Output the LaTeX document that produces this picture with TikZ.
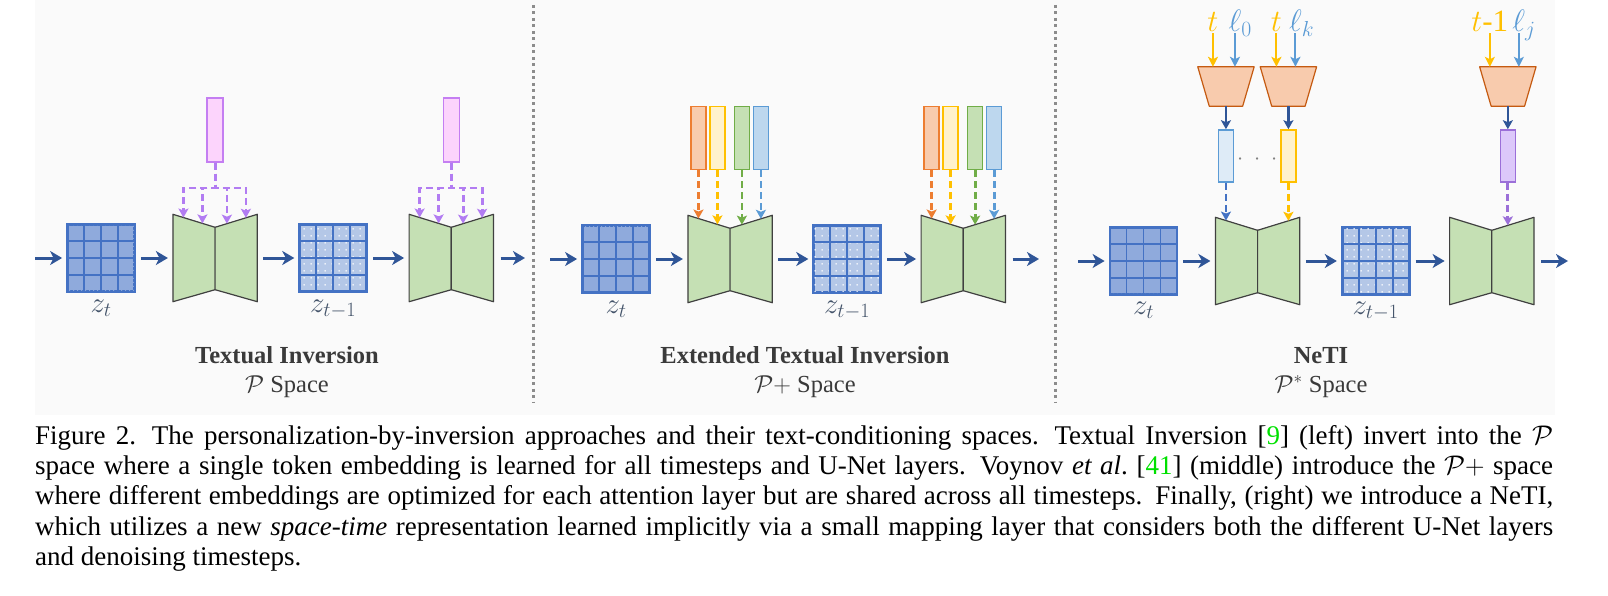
\RequirePackage{fix-cm}
\documentclass[tikz,border=0pt]{standalone}
\usepackage{fontspec}
\setmainfont{Liberation Serif}
\usetikzlibrary{arrows.meta,positioning,calc,patterns.meta}
\definecolor{flowblue}{HTML}{2F5597}
\definecolor{latline}{HTML}{4472C4}
\definecolor{latdark}{HTML}{8FAADC}
\definecolor{latlight}{HTML}{B4C7E7}
\definecolor{unetfill}{HTML}{C5E0B4}
\definecolor{unetline}{HTML}{404040}
\definecolor{orangeln}{HTML}{ED7D31}
\definecolor{orangefl}{HTML}{F8CBAD}
\definecolor{mapline}{HTML}{C55A11}
\definecolor{yellowln}{HTML}{FFC000}
\definecolor{yellowfl}{HTML}{FFF2CC}
\definecolor{greenln}{HTML}{70AD47}
\definecolor{blueln}{HTML}{5B9BD5}
\definecolor{bluefl}{HTML}{BDD7EE}
\definecolor{paleblue}{HTML}{DEEBF7}
\definecolor{pinkfl}{HTML}{FCD4FC}
\definecolor{pinkln}{HTML}{C47EF2}
\definecolor{violetdash}{HTML}{B27CF2}
\definecolor{lilacfl}{HTML}{DCC8FA}
\definecolor{lilacln}{HTML}{9B6FD8}
\definecolor{titlegray}{HTML}{3A3A3A}
\definecolor{zlabel}{HTML}{44546A}
\definecolor{figbg}{HTML}{FAFAFA}
\definecolor{sepgray}{HTML}{8C8C8C}
\definecolor{citegreen}{HTML}{00E000}
\tikzdeclarepattern{name=speckle, type=uncolored, bounding box={(0pt,0pt) and (4pt,4pt)},
  tile size={(4pt,4pt)}, code={\fill (2pt,2pt) circle (0.9pt);}}
\tikzdeclarepattern{name=sparkle, type=uncolored, bounding box={(0pt,0pt) and (7pt,7pt)},
  tile size={(7pt,7pt)}, code={\fill (3.5pt,3.5pt) circle (0.9pt);}}
\tikzset{
  lattice/.style={draw=latline, line width=1.8pt, fill=#1, minimum width=66pt, minimum height=66pt, inner sep=0pt},
  gridline/.style={latline, line width=1.8pt},
  unet/.style={minimum width=84pt, minimum height=87pt, inner sep=0pt},
  unetbody/.style={draw=unetline, fill=unetfill, line width=1.2pt, line join=round},
  tokbar/.style 2 args={draw=#1, fill=#2, line width=1.6pt, minimum width=15pt, minimum height=63pt, inner sep=0pt},
  mapper/.style={minimum width=56pt, minimum height=39pt, inner sep=0pt},
  mapbody/.style={draw=mapline, fill=orangefl, line width=1.2pt, line join=round},
  flow/.style={flowblue, line width=3pt, -{Stealth[length=12pt,width=14pt,inset=3.5pt]}, shorten <=6pt, shorten >=5pt},
  dashflow/.style={#1, line width=2.8pt, dash pattern=on 7pt off 4pt, -{Stealth[length=9pt,width=10pt,inset=2pt]}},
  inflow/.style={#1, line width=2pt, -{Stealth[length=10pt,width=10pt,inset=2.5pt]}},
  mapflow/.style={flowblue, line width=2.2pt, -{Stealth[length=9pt,width=10pt,inset=2pt]}},
  zlab/.style={text=zlabel, font=\fontsize{29}{31}\selectfont, inner sep=0pt},
  tin/.style={text=#1, font=\fontsize{31}{33}\selectfont, inner sep=1pt, text depth=0pt, anchor=base},
  ptitle/.style={text=titlegray, font=\fontsize{24.5}{28}\selectfont\bfseries, anchor=base, inner sep=0pt},
  psub/.style={text=titlegray, font=\fontsize{24.5}{28}\selectfont, anchor=base, inner sep=0pt},
  sepline/.style={sepgray, line width=3pt, dash pattern=on 3pt off 3.5pt},
  capnode/.style={anchor=north west, text width=1518pt, align=left, inner sep=0pt,
    font=\fontsize{27}{30.3}\selectfont}
}
\newcommand{\capline}[1]{\makebox[1518pt][s]{#1}}
\begin{document}
\begin{tikzpicture}[x=1pt,y=-1pt]
  \useasboundingbox (0,0) rectangle (1608,596);
  \fill[figbg] (35,0) rectangle (1555,415);
  \draw[sepline] (533,5) -- (533,402);
  \draw[sepline] (1055,5) -- (1055,402);

  \node[lattice=latdark] (g1) at (101,258) {};
  \node[unet,right=38pt of g1] (u1) {};
  \node[lattice=latlight,right=42pt of u1] (g2) {};
  \node[unet,right=42pt of g2] (u2) {};
  \node[lattice=latdark] (g3) at (616,259) {};
  \node[unet,right=38pt of g3] (u3) {};
  \node[lattice=latlight,right=41pt of u3] (g4) {};
  \node[unet,right=40pt of g4] (u4) {};
  \node[lattice=latdark] (g5) at (1143.5,261) {};
  \node[unet,right=38pt of g5] (u5) {};
  \node[lattice=latlight,right=42pt of u5] (g6) {};
  \node[unet,right=40pt of g6] (u6) {};

  \foreach \i in {1,3,5}
    \fill[pattern=speckle,pattern color=latline!60] (g\i.north west) rectangle (g\i.south east);
  \foreach \i in {2,4,6}
    \fill[pattern=sparkle,pattern color=white] (g\i.north west) rectangle (g\i.south east);
  \foreach \i in {1,...,6} {
    \draw[gridline] (g\i.north west) rectangle (g\i.south east);
    \foreach \f in {0.25,0.5,0.75} {
      \draw[gridline] ($(g\i.north west)!\f!(g\i.north east)$) -- ($(g\i.south west)!\f!(g\i.south east)$);
      \draw[gridline] ($(g\i.north west)!\f!(g\i.south west)$) -- ($(g\i.north east)!\f!(g\i.south east)$);
    }
    \coordinate (u\i-top) at ([yshift=-13pt]u\i.north);
    \coordinate (u\i-bot) at ([yshift=12pt]u\i.south);
    \draw[unetbody] (u\i.north west) -- (u\i-top) -- (u\i-bot) -- (u\i.south west) -- cycle;
    \draw[unetbody] (u\i.north east) -- (u\i-top) -- (u\i-bot) -- (u\i.south east) -- cycle;
    \coordinate (u\i-a) at ($(u\i.north west)!0.25!(u\i-top)$);
    \coordinate (u\i-b) at ($(u\i.north west)!0.7!(u\i-top)$);
    \coordinate (u\i-c) at ($(u\i-top)!0.28!(u\i.north east)$);
    \coordinate (u\i-d) at ($(u\i-top)!0.73!(u\i.north east)$);
  }

  \coordinate (in1) at (35,258); \coordinate (out1) at (525,258);
  \coordinate (in2) at (550,259); \coordinate (out2) at (1039,259);
  \coordinate (in3) at (1078,261); \coordinate (out3) at (1568,261);
  \draw[flow,shorten <=0pt](in1)--(g1);\draw[flow](g1)--(u1);\draw[flow](u1)--(g2);\draw[flow](g2)--(u2);
  \draw[flow,shorten <=7pt,shorten >=0pt](u2)--(out1);
  \draw[flow,shorten <=0pt](in2)--(g3);\draw[flow](g3)--(u3);\draw[flow](u3)--(g4);\draw[flow](g4)--(u4);
  \draw[flow,shorten <=7pt,shorten >=0pt](u4)--(out2);
  \draw[flow,shorten <=0pt](in3)--(g5);\draw[flow](g5)--(u5);\draw[flow](u5)--(g6);\draw[flow](g6)--(u6);
  \draw[flow,shorten <=7pt,shorten >=0pt](u6)--(out3);

  \node[zlab,below=8pt of g1] (z1) {$z_t$};
  \node[zlab,below=8pt of g2] (z2) {$z_{t-1}$};
  \node[zlab,below=8pt of g3] (z3) {$z_t$};
  \node[zlab,below=8pt of g4] (z4) {$z_{t-1}$};
  \node[zlab,below=7pt of g5] (z5) {$z_t$};
  \node[zlab,below=7pt of g6] (z6) {$z_{t-1}$};

  \coordinate (lv1) at (0,130);
  \coordinate (j1) at (0,188);
  \node[tokbar={pinkln}{pinkfl},minimum width=16pt,minimum height=64pt] (p1) at (u1.north |- lv1) {};
  \node[tokbar={pinkln}{pinkfl},minimum width=16pt,minimum height=64pt] (p2) at (u2.north |- lv1) {};
  \foreach \e in {a,b,c,d} {
    \draw[dashflow=violetdash] (p1) |- (u1-\e |- j1) -- (u1-\e);
    \draw[dashflow=violetdash] (p2) |- (u2-\e |- j1) -- (u2-\e);
  }

  \coordinate (lv2) at (0,138);
  \node[tokbar={orangeln}{orangefl}] (oa) at (u3-a |- lv2) {};
  \node[tokbar={yellowln}{yellowfl}] (ya) at (u3-b |- lv2) {};
  \node[tokbar={greenln}{unetfill}] (ga) at (u3-c |- lv2) {};
  \node[tokbar={blueln}{bluefl}] (ba) at (u3-d |- lv2) {};
  \node[tokbar={orangeln}{orangefl}] (ob) at (u4-a |- lv2) {};
  \node[tokbar={yellowln}{yellowfl}] (yb) at (u4-b |- lv2) {};
  \node[tokbar={greenln}{unetfill}] (gb) at (u4-c |- lv2) {};
  \node[tokbar={blueln}{bluefl}] (bb) at (u4-d |- lv2) {};
  \draw[dashflow=orangeln](oa)--(u3-a);\draw[dashflow=yellowln](ya)--(u3-b);
  \draw[dashflow=greenln](ga)--(u3-c);\draw[dashflow=blueln](ba)--(u3-d);
  \draw[dashflow=orangeln](ob)--(u4-a);\draw[dashflow=yellowln](yb)--(u4-b);
  \draw[dashflow=greenln](gb)--(u4-c);\draw[dashflow=blueln](bb)--(u4-d);

  \coordinate (lv3) at (0,156);
  \coordinate (lv4) at (0,86.5);
  \coordinate (lv5) at (0,32);
  \coordinate (u6-x) at ($(u6-top)!0.38!(u6.north east)$);
  \node[tokbar={blueln}{paleblue},minimum height=52pt] (k1) at (u5-a |- lv3) {};
  \node[tokbar={yellowln}{yellowfl},minimum height=52pt] (k2) at (u5-d |- lv3) {};
  \node[tokbar={lilacln}{lilacfl},minimum height=52pt] (k3) at (u6-x |- lv3) {};
  \node[text=gray,inner sep=0pt,font=\fontsize{22}{24}\selectfont] (dots) at ($(k1)!0.5!(k2)+(0pt,-4pt)$) {$\cdot\;\cdot\;\cdot$};
  \draw[dashflow=latline](k1)--(u5-a);\draw[dashflow=yellowln](k2)--(u5-d);\draw[dashflow=lilacln](k3)--(u6-x);
  \node[mapper] (m1) at (k1 |- lv4) {};
  \node[mapper] (m2) at (k2 |- lv4) {};
  \node[mapper] (m3) at (k3 |- lv4) {};
  \foreach \m in {m1,m2,m3}
    \draw[mapbody] (\m.north west) -- (\m.north east) -- ([xshift=-11.5pt]\m.south east) -- ([xshift=11.5pt]\m.south west) -- cycle;
  \draw[mapflow](m1)--(k1);\draw[mapflow](m2)--(k2);\draw[mapflow](m3)--(k3);

  \node[tin=yellowln,xshift=-13pt] (ta) at (m1.north |- lv5) {$t$};
  \node[tin=blueln,xshift=9pt] (la) at (m1.north |- lv5) {$\ell\rlap{$_0$}$};
  \node[tin=yellowln,xshift=-12pt] (tb) at (m2.north |- lv5) {$t$};
  \node[tin=blueln,xshift=7pt] (lb) at (m2.north |- lv5) {$\ell\rlap{$_k$}$};
  \node[tin=yellowln,xshift=-18pt] (tc) at (m3.north |- lv5) {$t$-1};
  \node[tin=blueln,xshift=11pt] (lc) at (m3.north |- lv5) {$\ell\rlap{$_j$}$};
  \draw[inflow=yellowln](ta)--(ta |- m1.north);\draw[inflow=blueln](la)--(la |- m1.north);
  \draw[inflow=yellowln](tb)--(tb |- m2.north);\draw[inflow=blueln](lb)--(lb |- m2.north);
  \draw[inflow=yellowln](tc)--(tc |- m3.north);\draw[inflow=blueln](lc)--(lc |- m3.north);

  \node[ptitle] (ti1) at (287,363) {Textual Inversion};
  \node[psub] (su1) at (287,392) {$\mathcal{P}$ Space};
  \node[ptitle] (ti2) at (805,363) {Extended Textual Inversion};
  \node[psub] (su2) at (805,392) {$\mathcal{P}+$ Space};
  \node[ptitle] (ti3) at (1321,363) {NeTI};
  \node[psub] (su3) at (1321,392) {$\mathcal{P}^*$ Space};

  \node[capnode] (cap) at (35,424) {\spaceskip=0.25em plus 0.6em minus 0.12em\xspaceskip=0.45em plus 0.6em minus 0.12em
    \rule{0pt}{20pt}%
    \capline{Figure 2. The personalization-by-inversion approaches and their text-conditioning spaces. Textual Inversion [\textcolor{citegreen}{9}] (left) invert into the $\mathcal{P}$}\\
    \capline{space where a single token embedding is learned for all timesteps and U-Net layers. Voynov \textit{et al}.\ [\textcolor{citegreen}{41}] (middle) introduce the $\mathcal{P}+$ space}\\
    \capline{where different embeddings are optimized for each attention layer but are shared across all timesteps. Finally, (right) we introduce a NeTI,}\\
    \capline{which utilizes a new \textit{space-time} representation learned implicitly via a small mapping layer that considers both the different U-Net layers}\\
    and denoising timesteps.};
\end{tikzpicture}
\end{document}
